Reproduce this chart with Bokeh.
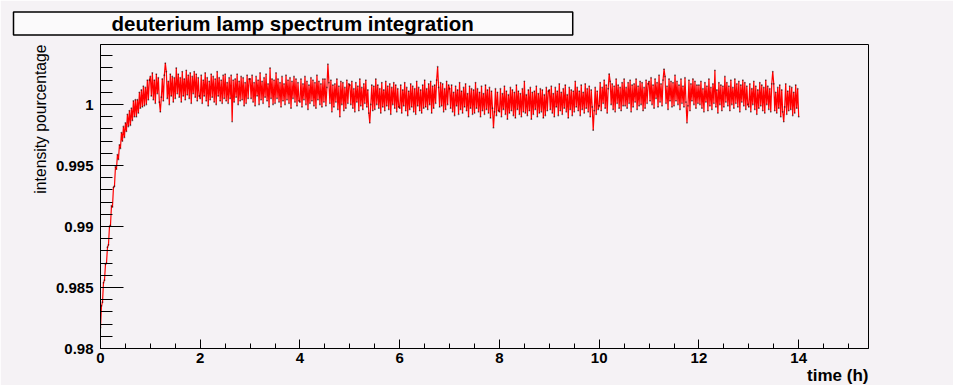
import numpy as np
from bokeh.plotting import figure
from bokeh.models import FixedTicker, CustomJSTickFormatter, Title, Range1d
from bokeh.embed import file_html
from bokeh.resources import INLINE

# ---------------- data ----------------
title_text = "deuterium lamp spectrum integration"
x_label = "time (h)"
y_label = "intensity pourcentage"

x_major = [0, 2, 4, 6, 8, 10, 12, 14]
x_minor = [v * 0.5 for v in range(0, 31)]
y_major = [0.98, 0.985, 0.99, 0.995, 1.0]
y_minor = [round(0.98 + v * 0.001, 3) for v in range(0, 25)]

# one reading every 0.02 h (72 s); each list below covers one hour
intensity_h0 = [0.9817, 0.9835, 0.9838, 0.9854, 0.9856, 0.9869, 0.9870, 0.9883, 0.9885, 0.9900,
                0.9901, 0.9917, 0.9916, 0.9932, 0.9933, 0.9949, 0.9947, 0.9959, 0.9955, 0.9967,
                0.9964, 0.9977, 0.9970, 0.9982, 0.9973, 0.9985, 0.9978, 0.9992, 0.9982, 0.9995,
                0.9983, 0.9997, 0.9987, 1.0003, 0.9990, 1.0004, 0.9990, 1.0004, 0.9993, 1.0010,
                0.9997, 1.0012, 0.9998, 1.0015, 0.9999, 1.0014, 1.0000, 1.0020, 1.0004, 1.0020]
intensity_h1 = [1.0023, 1.0007, 1.0026, 1.0004, 1.0020, 1.0001, 1.0025, 1.0009, 1.0022, 1.0002,
                0.9994, 1.0006, 1.0021, 1.0003, 1.0024, 1.0034, 1.0027, 1.0005, 1.0019, 1.0000,
                1.0025, 1.0007, 1.0023, 1.0002, 1.0022, 1.0005, 1.0030, 1.0009, 1.0025, 1.0006,
                1.0022, 1.0002, 1.0027, 1.0007, 1.0021, 1.0004, 1.0028, 1.0008, 1.0024, 1.0005,
                1.0026, 1.0001, 1.0023, 1.0009, 1.0027, 1.0006, 1.0025, 1.0003, 1.0022, 1.0007]
intensity_h2 = [1.0005, 1.0024, 1.0001, 1.0020, 1.0007, 1.0026, 1.0003, 1.0022, 0.9999, 1.0019,
                1.0004, 1.0025, 1.0006, 1.0023, 1.0002, 1.0021, 1.0000, 1.0027, 1.0007, 1.0022,
                1.0003, 1.0020, 1.0001, 1.0024, 1.0005, 1.0025, 1.0003, 1.0018, 1.0001, 1.0022,
                1.0005, 1.0024, 0.9986, 1.0020, 1.0002, 1.0021, 1.0006, 1.0025, 1.0000, 1.0019,
                1.0003, 1.0023, 1.0004, 1.0022, 0.9999, 1.0018, 1.0001, 1.0024, 1.0005, 1.0021]
intensity_h3 = [1.0021, 1.0005, 1.0024, 1.0002, 1.0018, 0.9999, 1.0023, 1.0007, 1.0020, 1.0000,
                1.0026, 1.0004, 1.0019, 1.0001, 1.0022, 1.0006, 1.0025, 1.0003, 1.0017, 0.9998,
                1.0030, 1.0005, 1.0021, 1.0000, 1.0020, 1.0001, 1.0026, 1.0005, 1.0021, 1.0002,
                1.0018, 0.9998, 1.0023, 1.0003, 1.0017, 1.0000, 1.0024, 1.0004, 1.0020, 1.0001,
                1.0022, 0.9997, 1.0019, 1.0005, 1.0023, 1.0002, 1.0021, 0.9999, 1.0018, 1.0003]
intensity_h4 = [1.0002, 1.0021, 0.9998, 1.0017, 1.0004, 1.0023, 1.0000, 1.0019, 0.9996, 1.0016,
                1.0001, 1.0022, 1.0003, 1.0020, 0.9999, 1.0018, 0.9997, 1.0024, 1.0004, 1.0019,
                1.0000, 1.0017, 0.9998, 1.0021, 1.0002, 1.0021, 0.9999, 1.0014, 1.0033, 1.0018,
                1.0001, 1.0020, 0.9994, 1.0016, 0.9998, 1.0017, 1.0002, 1.0021, 0.9996, 1.0015,
                0.9990, 1.0019, 1.0000, 1.0018, 0.9995, 1.0014, 0.9997, 1.0020, 1.0001, 1.0017]
intensity_h5 = [1.0016, 1.0000, 1.0019, 0.9997, 1.0013, 0.9994, 1.0018, 1.0002, 1.0015, 0.9995,
                1.0021, 0.9999, 1.0014, 0.9996, 1.0017, 1.0001, 1.0020, 0.9998, 1.0012, 0.9993,
                0.9985, 1.0000, 1.0016, 0.9995, 1.0015, 0.9996, 1.0021, 1.0000, 1.0016, 0.9997,
                1.0013, 0.9993, 1.0018, 0.9998, 1.0012, 0.9995, 1.0019, 0.9999, 1.0015, 0.9996,
                1.0017, 0.9992, 1.0014, 1.0000, 1.0018, 0.9997, 1.0016, 0.9994, 1.0013, 0.9998]
intensity_h6 = [0.9997, 1.0016, 0.9993, 1.0012, 0.9999, 1.0018, 0.9995, 1.0014, 0.9991, 1.0011,
                0.9996, 1.0017, 0.9998, 1.0015, 0.9994, 1.0013, 0.9992, 1.0019, 0.9999, 1.0014,
                0.9995, 1.0012, 0.9993, 1.0016, 0.9997, 1.0020, 0.9998, 1.0013, 0.9996, 1.0017,
                1.0000, 1.0019, 0.9993, 1.0015, 0.9997, 1.0016, 1.0001, 1.0020, 1.0031, 1.0014,
                0.9998, 1.0018, 0.9999, 1.0017, 0.9994, 1.0013, 0.9996, 1.0019, 1.0000, 1.0016]
intensity_h7 = [1.0013, 0.9997, 1.0016, 0.9994, 1.0010, 0.9991, 1.0015, 0.9999, 1.0012, 0.9992,
                1.0018, 0.9996, 1.0011, 0.9993, 1.0014, 0.9998, 1.0017, 0.9995, 1.0009, 0.9990,
                1.0015, 0.9997, 1.0013, 0.9992, 1.0012, 0.9993, 1.0018, 0.9997, 1.0013, 0.9994,
                1.0010, 0.9990, 1.0015, 0.9995, 1.0009, 0.9992, 1.0016, 0.9996, 1.0012, 0.9993,
                1.0014, 0.9989, 1.0011, 0.9997, 0.9981, 0.9994, 1.0013, 0.9991, 1.0010, 0.9995]
intensity_h8 = [0.9994, 1.0013, 0.9990, 1.0009, 0.9996, 1.0015, 0.9992, 1.0011, 0.9988, 1.0008,
                0.9993, 1.0014, 0.9995, 1.0012, 0.9991, 1.0010, 0.9989, 1.0016, 0.9996, 1.0011,
                0.9992, 1.0009, 0.9990, 1.0013, 0.9994, 1.0019, 0.9993, 1.0008, 0.9991, 1.0012,
                0.9995, 1.0014, 0.9988, 1.0010, 0.9992, 1.0011, 0.9996, 1.0015, 0.9990, 1.0009,
                0.9993, 1.0013, 0.9994, 1.0012, 0.9989, 1.0008, 0.9991, 1.0014, 0.9995, 1.0011]
intensity_h9 = [1.0012, 0.9996, 1.0015, 0.9993, 1.0009, 0.9990, 1.0014, 0.9998, 1.0011, 0.9991,
                1.0017, 0.9995, 1.0010, 0.9992, 1.0013, 0.9997, 1.0016, 0.9994, 1.0008, 0.9989,
                1.0014, 0.9996, 1.0012, 0.9991, 1.0011, 0.9994, 1.0019, 0.9998, 1.0014, 0.9995,
                1.0011, 0.9991, 1.0016, 0.9996, 1.0010, 0.9993, 1.0017, 0.9997, 1.0013, 0.9994,
                1.0015, 0.9990, 1.0012, 0.9998, 0.9979, 0.9995, 1.0014, 0.9992, 1.0011, 0.9996]
intensity_h10 = [0.9999, 1.0018, 0.9995, 1.0014, 1.0001, 1.0020, 0.9997, 1.0016, 0.9993, 1.0013,
                 1.0025, 1.0019, 1.0000, 1.0017, 0.9996, 1.0015, 0.9994, 1.0021, 1.0001, 1.0016,
                 0.9997, 1.0014, 0.9995, 1.0018, 0.9999, 1.0021, 0.9999, 1.0014, 0.9997, 1.0018,
                 1.0001, 1.0020, 0.9994, 1.0016, 0.9998, 1.0017, 1.0002, 1.0021, 0.9996, 1.0015,
                 0.9999, 1.0019, 1.0000, 1.0018, 0.9995, 1.0014, 0.9997, 1.0020, 1.0001, 1.0017]
intensity_h11 = [1.0019, 1.0003, 1.0022, 1.0000, 1.0016, 0.9997, 1.0021, 1.0005, 1.0018, 0.9998,
                 1.0024, 1.0002, 1.0017, 0.9999, 1.0020, 1.0029, 1.0023, 1.0001, 1.0015, 0.9996,
                 1.0021, 1.0003, 1.0019, 0.9998, 1.0018, 0.9999, 1.0024, 1.0003, 1.0019, 1.0000,
                 1.0016, 0.9996, 1.0021, 1.0001, 1.0015, 0.9998, 1.0022, 1.0002, 0.9985, 0.9999,
                 1.0020, 0.9995, 1.0017, 1.0003, 1.0021, 1.0000, 1.0019, 0.9997, 1.0016, 1.0001]
intensity_h12 = [1.0016, 1.0000, 1.0019, 0.9997, 1.0013, 0.9994, 1.0018, 1.0002, 1.0015, 0.9995,
                 1.0021, 0.9999, 1.0014, 0.9996, 1.0017, 1.0001, 1.0028, 0.9998, 1.0012, 0.9993,
                 1.0018, 1.0000, 1.0016, 0.9995, 1.0015, 0.9998, 1.0023, 1.0002, 1.0018, 0.9999,
                 1.0015, 0.9995, 1.0020, 1.0000, 1.0014, 0.9997, 1.0021, 1.0001, 1.0017, 0.9998,
                 1.0019, 0.9994, 1.0016, 1.0002, 1.0020, 0.9999, 1.0018, 0.9996, 1.0015, 1.0000]
intensity_h13 = [0.9998, 1.0017, 0.9994, 1.0013, 1.0000, 1.0019, 0.9996, 1.0015, 0.9992, 1.0012,
                 0.9997, 1.0018, 0.9999, 1.0016, 0.9995, 1.0014, 0.9993, 1.0020, 1.0000, 1.0015,
                 0.9996, 1.0013, 0.9994, 1.0017, 1.0027, 1.0017, 0.9995, 1.0010, 0.9993, 1.0014,
                 0.9997, 1.0016, 0.9990, 1.0012, 0.9994, 0.9986, 0.9998, 1.0017, 0.9992, 1.0011,
                 0.9995, 1.0015, 0.9996, 1.0014, 0.9991, 1.0010, 0.9993, 1.0016, 0.9997, 1.0013]
intensity_h14 = [0.9990]

intensity = (intensity_h0 + intensity_h1 + intensity_h2 + intensity_h3 + intensity_h4 +
             intensity_h5 + intensity_h6 + intensity_h7 + intensity_h8 + intensity_h9 +
             intensity_h10 + intensity_h11 + intensity_h12 + intensity_h13 + intensity_h14)
time_h = list(np.linspace(0.0, 14.0, len(intensity)))  # 0.02 h sampling

# ---------------- layout ----------------
W, H = 953, 385
L, R, T, B = 100, 85, 44, 37
BG = "#f5f2f5"
FONT = "Liberation Sans"

p = figure(width=W, height=H, x_range=Range1d(0.0, 15.4), y_range=Range1d(0.98, 1.00492),
           output_backend="svg", toolbar_location=None,
           min_border_left=L, min_border_right=R, min_border_top=T, min_border_bottom=B,
           background_fill_color=BG, border_fill_color=BG)
p.outline_line_color = "black"
p.outline_line_width = 1
p.grid.visible = False

# main title as a boxed pave
p.title.text = title_text
p.title.align = "left"
p.title.offset = -87
p.title.standoff = 19
p.title.text_font = FONT
p.title.text_font_style = "bold"
p.title.text_font_size = "20.5px"
p.title.text_color = "black"
p.title.background_fill_color = "#fbfafb"
p.title.border_line_color = "black"
p.title.border_line_width = 1.5
p.title.padding = dict(left=98, right=99, top=0, bottom=0)

p.xaxis.ticker = FixedTicker(ticks=x_major, minor_ticks=x_minor)
p.yaxis.ticker = FixedTicker(ticks=y_major, minor_ticks=y_minor)
p.yaxis.formatter = CustomJSTickFormatter(code="return tick.toFixed(3).replace(/\\.?0+$/, '');")

for ax in (p.xaxis[0], p.yaxis[0]):
    ax.axis_line_color = "black"
    ax.major_tick_line_color = "black"
    ax.minor_tick_line_color = "black"
    ax.major_tick_out = 0
    ax.minor_tick_out = 0
    ax.major_label_text_font = FONT
    ax.major_label_text_font_style = "bold"
    ax.major_label_text_font_size = "15px"
    ax.major_label_text_color = "black"

p.yaxis.major_tick_in = 23
p.yaxis.minor_tick_in = 12
p.yaxis.major_label_standoff = 7
p.xaxis.major_tick_in = 9
p.xaxis.minor_tick_in = 5
p.xaxis.major_label_standoff = 4

p.add_layout(Title(text=y_label, align="right", text_font=FONT, text_font_style="normal",
                   text_font_size="15.7px", text_color="black", standoff=8), "left")
p.add_layout(Title(text=x_label, align="right", text_font=FONT, text_font_style="bold",
                   text_font_size="17px", text_color="black", standoff=-3), "below")

# data
p.line(time_h, intensity, line_color="red", line_width=1.2)
p.scatter(time_h, intensity, size=1.8, fill_color="black", line_color=None, fill_alpha=0.5)

open("out.html", "w").write(file_html(p, INLINE))
